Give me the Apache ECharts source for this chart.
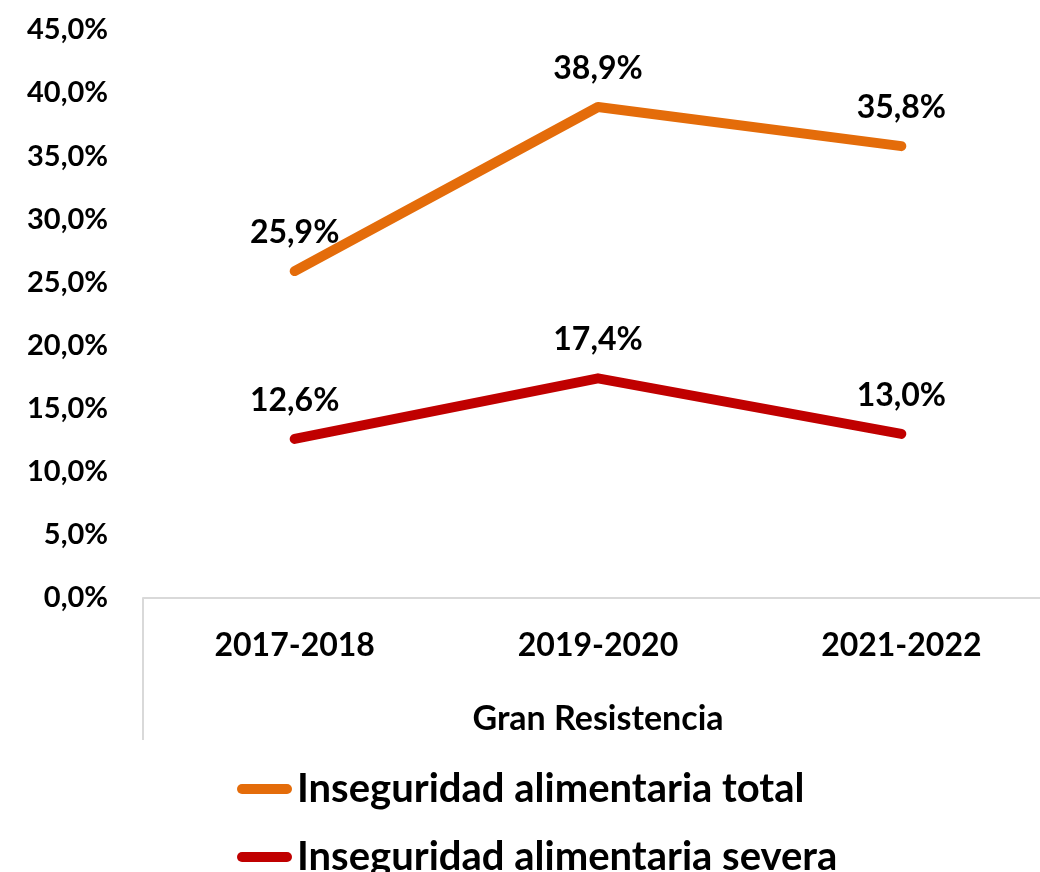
<!DOCTYPE html>
<html>
<head>
<meta charset="utf-8">
<script src="https://cdn.jsdelivr.net/npm/echarts@6/dist/echarts.min.js"></script>
<style>
    html, body { margin: 0; padding: 0; background: #fff; }
    #chart { width: 1040px; height: 872px; }
</style>
</head>
<body>
<div id="chart"></div>
<script>
const categories = ['2017-2018', '2019-2020', '2021-2022']
const groupLabel = ['Gran Resistencia']
const totalName = 'Inseguridad alimentaria total'
const severaName = 'Inseguridad alimentaria severa'
const totalValues = [25.9, 38.9, 35.8]
const severaValues = [12.6, 17.4, 13.0]

const FONT = 'Lato'
// 12.6 -> "12,6%"
const pct = v => v.toFixed(1).replace('.', ',') + '%'

const chart = echarts.init(document.getElementById('chart'))

const lineSeries = (name, data, color) => ({
    name: name,
    type: 'line',
    data: data,
    symbol: 'circle',
    symbolSize: 1,
    itemStyle: { color: color },
    lineStyle: { color: color, width: 10, cap: 'round', join: 'round' },
    label: {
        show: true,
        position: 'top',
        distance: 22,
        formatter: p => pct(p.value),
        color: '#000',
        fontFamily: FONT,
        fontWeight: 'bold',
        fontSize: 32
    },
    animation: false
})

// one legend per row, so the vertical list never wraps into a second column
const legendRow = (name, top) => ({
    left: 237,
    top: top,
    padding: 0,
    itemWidth: 55,
    itemHeight: 10,
    // pill shaped key, like a thick line with round caps
    icon: 'path://M5,0 H50 A5,5 0 0 1 50,10 H5 A5,5 0 0 1 5,0 Z',
    data: [name],
    textStyle: {
        color: '#000',
        fontFamily: FONT,
        fontWeight: 'bold',
        fontSize: 40,
        padding: [0, 0, 0, 0]
    }
})

const option = {
    backgroundColor: '#fff',
    grid: { left: 143, right: -13, top: 30, bottom: 274, containLabel: false, outerBoundsMode: 'none' },
    legend: [
        legendRow(totalName, 769),
        legendRow(severaName, 837)
    ],
    xAxis: [
        {
            type: 'category',
            data: categories,
            axisLine: { show: true, lineStyle: { color: '#d9d9d9', width: 2 } },
            axisTick: { show: false },
            axisLabel: {
                margin: 32,
                color: '#000',
                fontFamily: FONT,
                fontWeight: 'bold',
                fontSize: 32
            }
        },
        {
            // Excel-style group level under the categories
            type: 'category',
            position: 'bottom',
            data: groupLabel,
            axisLine: { show: false },
            axisTick: { show: true, length: 142, lineStyle: { color: '#d9d9d9', width: 2 } },
            axisLabel: {
                margin: 104,
                color: '#000',
                fontFamily: FONT,
                fontWeight: 'bold',
                fontSize: 34
            }
        }
    ],
    yAxis: {
        type: 'value',
        min: 0,
        max: 45,
        interval: 5,
        axisLine: { show: false },
        axisTick: { show: false },
        splitLine: { show: false },
        axisLabel: {
            margin: 35,
            formatter: v => pct(v),
            color: '#000',
            fontFamily: FONT,
            fontWeight: 'bold',
            fontSize: 29
        }
    },
    series: [
        lineSeries(totalName, totalValues, '#E46C0A'),
        lineSeries(severaName, severaValues, '#C00000')
    ]
}

chart.setOption(option)
</script>
</body>
</html>
